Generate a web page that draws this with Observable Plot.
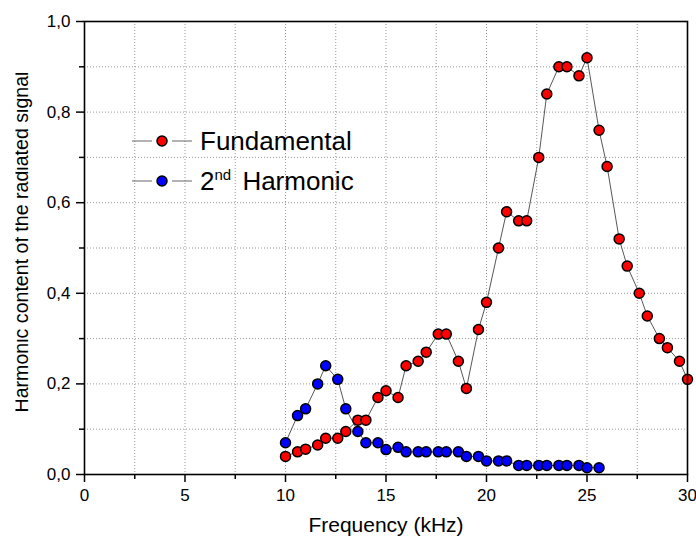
<!DOCTYPE html>
<html>
<head>
<meta charset="utf-8">
<script src="https://cdn.jsdelivr.net/npm/d3@7"></script>
<script src="https://cdn.jsdelivr.net/npm/@observablehq/plot@0.6"></script>
<style>
  html, body { margin: 0; padding: 0; background: #fff; }
  #chart { width: 696px; height: 542px; }
  svg { font-family: "Liberation Sans", Arial, sans-serif; }
</style>
</head>
<body>
<div id="chart"></div>
<script>
// Frequency (kHz) and harmonic content
const fundFreq = [10, 10.6, 11, 11.6, 12, 12.6, 13, 13.6, 14, 14.6, 15, 15.6, 16, 16.6, 17, 17.6, 18, 18.6, 19, 19.6, 20, 20.6, 21, 21.6, 22, 22.6, 23, 23.6, 24, 24.6, 25, 25.6, 26, 26.6, 27, 27.6, 28, 28.6, 29, 29.6, 30];
const fundValue = [0.04, 0.05, 0.056, 0.065, 0.08, 0.08, 0.095, 0.12, 0.12, 0.17, 0.185, 0.17, 0.24, 0.25, 0.27, 0.31, 0.31, 0.25, 0.19, 0.32, 0.38, 0.50, 0.58, 0.56, 0.56, 0.70, 0.84, 0.90, 0.90, 0.88, 0.92, 0.76, 0.68, 0.52, 0.46, 0.40, 0.35, 0.30, 0.28, 0.25, 0.21];

const harmFreq = [10, 10.6, 11, 11.6, 12, 12.6, 13, 13.6, 14, 14.6, 15, 15.6, 16, 16.6, 17, 17.6, 18, 18.6, 19, 19.6, 20, 20.6, 21, 21.6, 22, 22.6, 23, 23.6, 24, 24.6, 25, 25.6];
const harmValue = [0.07, 0.13, 0.145, 0.20, 0.24, 0.21, 0.145, 0.095, 0.07, 0.07, 0.055, 0.06, 0.05, 0.05, 0.05, 0.05, 0.05, 0.05, 0.04, 0.04, 0.03, 0.03, 0.03, 0.02, 0.02, 0.02, 0.02, 0.02, 0.02, 0.02, 0.015, 0.015];

const xMajorTicks = [0, 5, 10, 15, 20, 25, 30];
const xMinorTicks = [2.5, 7.5, 12.5, 17.5, 22.5, 27.5];
const yMajorTicks = [0, 0.2, 0.4, 0.6, 0.8, 1.0];
const yMinorTicks = [0.1, 0.3, 0.5, 0.7, 0.9];
const xGrid = [2.5, 5, 7.5, 10, 12.5, 15, 17.5, 20, 22.5, 25, 27.5];
const yGrid = [0.1, 0.2, 0.3, 0.4, 0.5, 0.6, 0.7, 0.8, 0.9];

const seriesNames = ["Fundamental", "2nd Harmonic"];
const seriesColors = ["#ff0000", "#0000ff"];
const xLabel = "Frequency (kHz)";
const yLabel = "Harmonic content of the radiated signal";

const fund = fundFreq.map((f, i) => ({f, v: fundValue[i]}));
const harm = harmFreq.map((f, i) => ({f, v: harmValue[i]}));
const comma = d => d3.format(".1f")(d).replace(".", ",");

const chart = Plot.plot({
  width: 696,
  height: 542,
  marginLeft: 84,
  marginRight: 9,
  marginTop: 21,
  marginBottom: 68,
  style: {fontFamily: "'Liberation Sans', Arial, sans-serif", fontSize: "17px", color: "#000", background: "#fff"},
  x: {domain: [0, 30]},
  y: {domain: [0, 1]},
  marks: [
    Plot.ruleX(xGrid, {stroke: "#9a9a9a", strokeWidth: 1, strokeDasharray: "1,2"}),
    Plot.ruleY(yGrid, {stroke: "#9a9a9a", strokeWidth: 1, strokeDasharray: "1,2"}),
    Plot.axisX({ticks: xMajorTicks, tickSize: 8, tickPadding: 6, tickFormat: d => String(d), label: null, fontSize: 17, strokeWidth: 1.5}),
    Plot.axisX({ticks: xMinorTicks, tickSize: 5, tickFormat: null, text: null, label: null, strokeWidth: 1.5}),
    Plot.axisY({ticks: yMajorTicks, tickSize: 8, tickPadding: 6, tickFormat: comma, label: null, fontSize: 17, strokeWidth: 1.5}),
    Plot.axisY({ticks: yMinorTicks, tickSize: 5, tickFormat: null, text: null, label: null, strokeWidth: 1.5}),
    Plot.line(fund, {x: "f", y: "v", stroke: "#444", strokeWidth: 0.9}),
    Plot.line(harm, {x: "f", y: "v", stroke: "#444", strokeWidth: 0.9}),
    Plot.dot(fund, {x: "f", y: "v", r: 5, fill: seriesColors[0], stroke: "#000", strokeWidth: 1.5}),
    Plot.dot(harm, {x: "f", y: "v", r: 5, fill: seriesColors[1], stroke: "#000", strokeWidth: 1.5}),
    Plot.frame({stroke: "#000", strokeWidth: 1.6})
  ]
});

document.getElementById("chart").appendChild(chart);

// Axis titles and legend added to the same SVG
const svg = d3.select(chart);
svg.append("text")
  .attr("x", 386).attr("y", 532)
  .attr("text-anchor", "middle")
  .attr("font-size", 21)
  .attr("fill", "#000")
  .text(xLabel);

svg.append("defs").append("clipPath").attr("id", "ylabclip")
  .append("rect").attr("x", 15.5).attr("y", 0).attr("width", 100).attr("height", 542);
svg.append("g").attr("clip-path", "url(#ylabclip)")
  .append("text")
  .attr("transform", "translate(28,242) rotate(-90)")
  .attr("text-anchor", "middle")
  .attr("font-size", 19.6)
  .attr("fill", "#000")
  .text(yLabel);

const legendY = [141, 181];
seriesNames.forEach((name, i) => {
  const g = svg.append("g");
  [[132, 152], [172, 192]].forEach(([a, b]) => {
    g.append("line").attr("x1", a).attr("x2", b).attr("y1", legendY[i]).attr("y2", legendY[i])
      .attr("stroke", "#666").attr("stroke-width", 1);
  });
  g.append("circle").attr("cx", 162).attr("cy", legendY[i]).attr("r", 5)
    .attr("fill", seriesColors[i]).attr("stroke", "#000").attr("stroke-width", 1.5);
  const t = g.append("text").attr("x", 200).attr("y", legendY[i] + 8.5)
    .attr("text-anchor", "start")
    .attr("font-size", 26).attr("fill", "#000");
  if (name.startsWith("2nd")) {
    t.append("tspan").text("2");
    t.append("tspan").attr("font-size", 15).attr("dy", -10).text("nd");
    t.append("tspan").attr("dy", 10).attr("dx", 4).text(" Harmonic");
  } else {
    t.text(name);
  }
});
</script>
</body>
</html>
